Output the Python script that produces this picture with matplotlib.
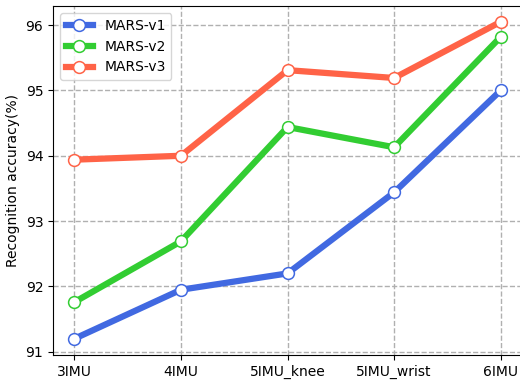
import matplotlib.pyplot as plt
import numpy as np

# accuracy (%) for each IMU configuration
configs = ['3IMU', '4IMU', '5IMU_knee', '5IMU_wrist', '6IMU']
mars_v1 = [91.20, 91.95, 92.20, 93.44, 95.00]
mars_v2 = [91.76, 92.69, 94.44, 94.13, 95.82]
mars_v3 = [93.94, 94.00, 95.31, 95.19, 96.05]

fig, ax = plt.subplots(figsize=(5.2, 3.81), dpi=100)
fig.subplots_adjust(left=0.102, right=1.006, top=0.984, bottom=0.068)

x = np.arange(len(configs))
style = dict(lw=4.5, marker='o', markersize=8.5, markerfacecolor='white', markeredgewidth=1.1)
ax.plot(x, mars_v1, color='royalblue', markeredgecolor='royalblue', label='MARS-v1', **style)
ax.plot(x, mars_v2, color='limegreen', markeredgecolor='limegreen', label='MARS-v2', **style)
ax.plot(x, mars_v3, color='tomato', markeredgecolor='tomato', label='MARS-v3', **style)

ax.set_xticks(x)
ax.set_xticklabels(configs)
ax.set_xlim(-0.2, 4.21)
ax.set_ylim(90.95, 96.29)
ax.set_yticks([91, 92, 93, 94, 95, 96])
ax.set_ylabel('Recognition accuracy(%)')
ax.grid(linestyle='--', color='#b0b0b0', lw=1)
ax.set_axisbelow(True)
ax.legend(loc='upper left')

fig.savefig('out.png', dpi=100)
